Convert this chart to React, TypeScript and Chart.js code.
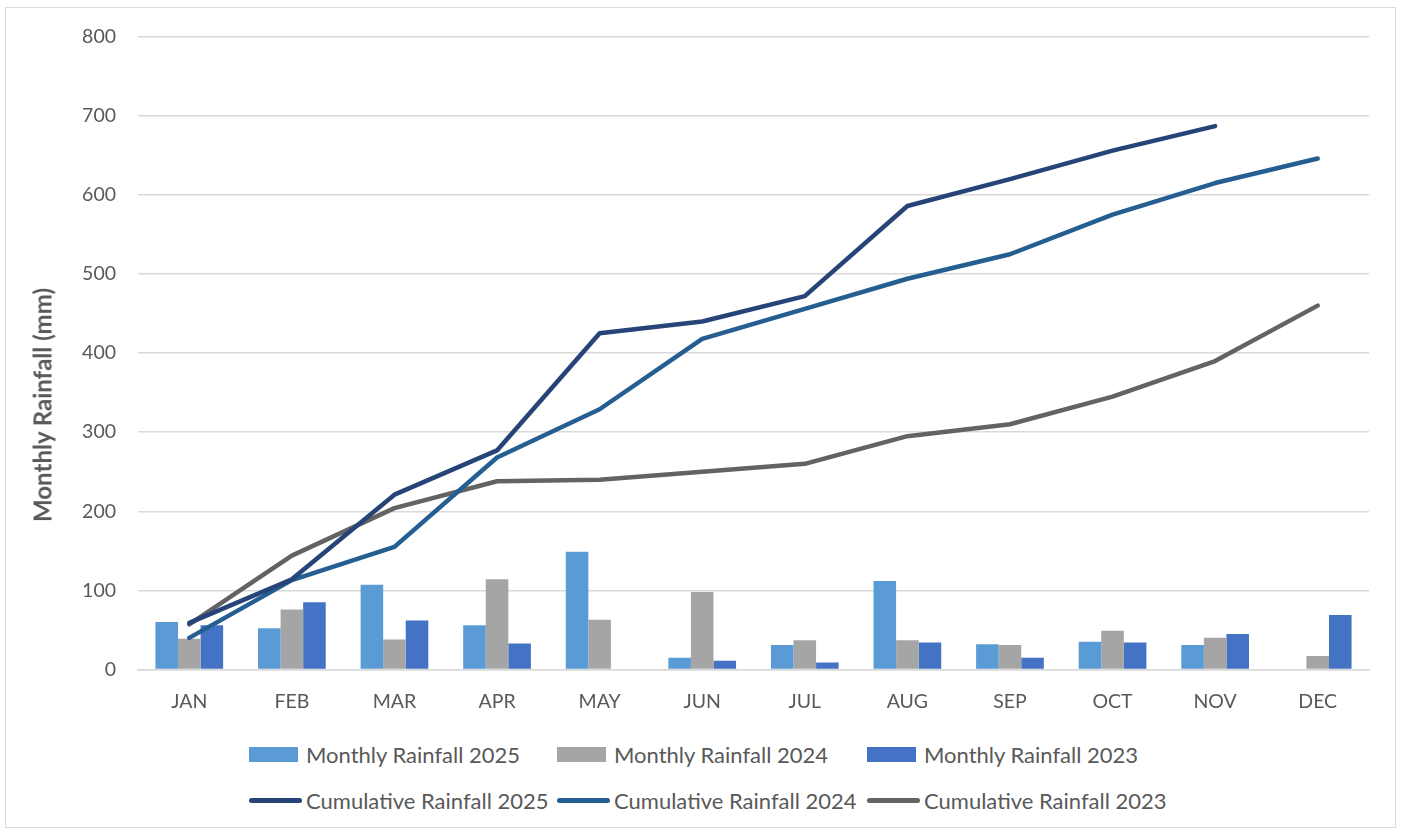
import React, { useEffect, useRef } from "react";
import { Chart, registerables } from "chart.js";

Chart.register(...registerables);

const months = ["JAN", "FEB", "MAR", "APR", "MAY", "JUN", "JUL", "AUG", "SEP", "OCT", "NOV", "DEC"];
const monthly2025 = [60, 52, 107, 56, 149, 15, 31, 112, 32, 35, 31, null];
const monthly2024 = [39, 76, 38, 114, 63, 98, 37, 37, 31, 49, 40, 17];
const monthly2023 = [56, 85, 62, 33, 1, 11, 9, 34, 15, 34, 45, 69];
const cumulative2025 = [59, 114, 221, 277, 425, 440, 472, 586, 620, 656, 687, null];
const cumulative2024 = [40, 113, 155, 268, 329, 418, 456, 494, 525, 575, 615, 646];
const cumulative2023 = [57, 144, 204, 238, 240, 250, 260, 295, 310, 345, 390, 460];
const yTicks = [0, 100, 200, 300, 400, 500, 600, 700, 800];

const barLabels = ["Monthly Rainfall 2025", "Monthly Rainfall 2024", "Monthly Rainfall 2023"];
const lineLabels = ["Cumulative Rainfall 2025", "Cumulative Rainfall 2024", "Cumulative Rainfall 2023"];
const barColors = ["#5B9BD5", "#A5A5A5", "#4472C4"];
const lineColors = ["#264478", "#255E91", "#636363"];

const FONT = "Lato, 'Open Sans', sans-serif";
const TEXT = "#595959";

export default function App() {
  const ref = useRef<HTMLCanvasElement | null>(null);

  useEffect(() => {
    if (!ref.current) return;
    const barData = [monthly2025, monthly2024, monthly2023];
    const lineData = [cumulative2025, cumulative2024, cumulative2023];
    const chart = new Chart(ref.current, {
      type: "bar",
      data: {
        labels: months,
        datasets: [
          ...lineData.map((d, i) => ({
            type: "line" as const,
            label: lineLabels[i],
            data: d,
            borderColor: lineColors[i],
            backgroundColor: lineColors[i],
            borderWidth: 4.5,
            pointRadius: 0,
            tension: 0,
            borderCapStyle: "round" as const,
            borderJoinStyle: "round" as const,
            order: 1,
          })),
          ...barData.map((d, i) => ({
            type: "bar" as const,
            label: barLabels[i],
            data: d,
            backgroundColor: barColors[i],
            borderWidth: 0,
            barPercentage: 1,
            categoryPercentage: 0.66,
            order: 2,
          })),
        ],
      },
      options: {
        responsive: false,
        maintainAspectRatio: false,
        animation: false,
        layout: { padding: { top: 28, right: 26, bottom: 8.5, left: 0 } },
        plugins: { legend: { display: false }, tooltip: { enabled: false } },
        scales: {
          x: {
            afterFit: (s: any) => { s.height = 50; },
            grid: { display: false, drawTicks: false },
            border: { display: true, color: "#D9D9D9", width: 1.5 },
            ticks: { color: TEXT, font: { family: FONT, size: 19.5 }, padding: 21 },
          },
          y: {
            min: 0,
            max: 800,
            afterFit: (s: any) => { s.width = 132; },
            afterBuildTicks: (s: any) => { s.ticks = yTicks.map((v) => ({ value: v })); },
            grid: { color: "#D9D9D9", lineWidth: 1.5, drawTicks: false },
            border: { display: false },
            ticks: { color: TEXT, font: { family: FONT, size: 19.5 }, padding: 22 },
          },
        },
      },
    });
    return () => chart.destroy();
  }, []);

  const legendCols = [249, 557, 867];

  return (
    <div
      style={{
        position: "absolute",
        left: 5,
        top: 7,
        width: 1391,
        height: 821,
        border: "1px solid #D9D9D9",
        boxSizing: "border-box",
        background: "#fff",
        fontFamily: FONT,
        overflow: "hidden",
      }}
    >
      <canvas ref={ref} width={1389} height={725} style={{ position: "absolute", left: 0, top: -5 }} />
      <div
        style={{
          position: "absolute",
          left: 36,
          top: 397,
          transform: "translate(-50%, -50%) rotate(-90deg)",
          whiteSpace: "nowrap",
          fontWeight: 700,
          fontSize: 24,
          color: TEXT,
        }}
      >
        Monthly Rainfall (mm)
      </div>
      {barLabels.map((l, i) => (
        <div
          key={l}
          style={{
            position: "absolute",
            left: legendCols[i] - 6,
            top: 746 - 13,
            height: 26,
            display: "flex",
            alignItems: "center",
            whiteSpace: "nowrap",
            fontSize: 22,
            color: TEXT,
          }}
        >
          <span style={{ display: "inline-block", width: 49, height: 15, background: barColors[i], marginRight: 8 }} />
          {l}
        </div>
      ))}
      {lineLabels.map((l, i) => (
        <div
          key={l}
          style={{
            position: "absolute",
            left: legendCols[i] - 6,
            top: 792 - 13,
            height: 26,
            display: "flex",
            alignItems: "center",
            whiteSpace: "nowrap",
            fontSize: 22,
            color: TEXT,
          }}
        >
          <span
            style={{
              display: "inline-block",
              width: 53,
              height: 5,
              borderRadius: 3,
              background: lineColors[i],
              marginRight: 4,
            }}
          />
          {l}
        </div>
      ))}
    </div>
  );
}
